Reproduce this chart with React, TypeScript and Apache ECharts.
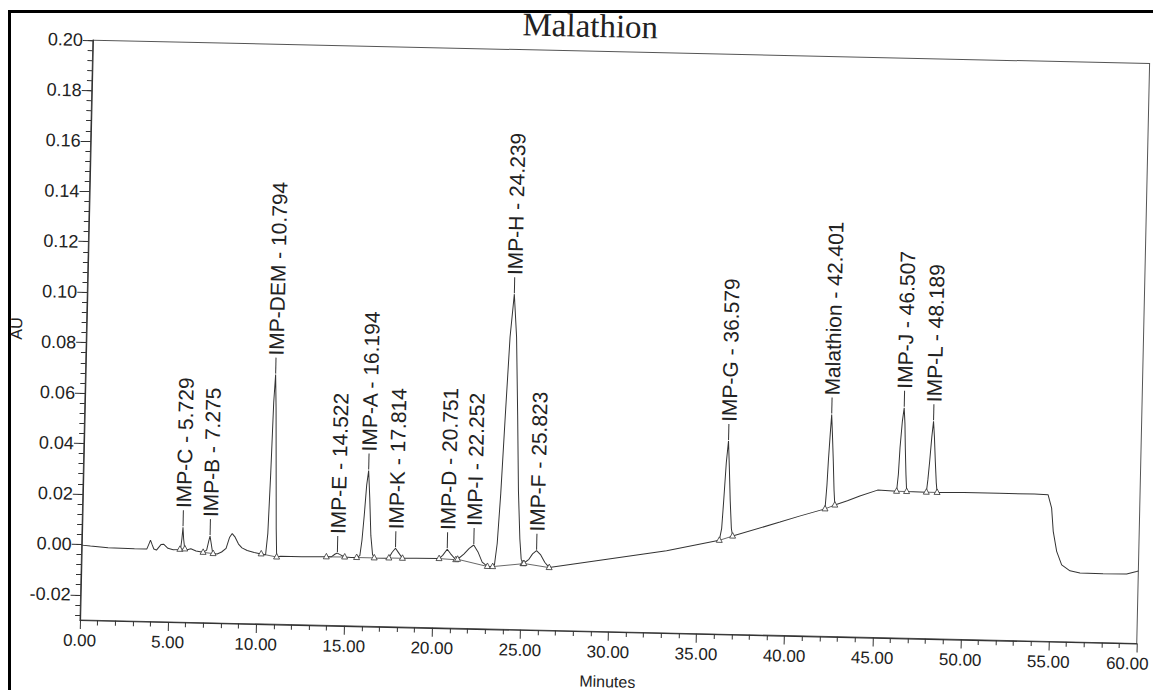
import React, { useEffect, useRef } from "react";
import * as echarts from "echarts";

// ---- Data (time in minutes, absorbance in AU) ----
const tracePoints: [number, number][] = [
  [0, -0.0003], [0.5, -0.0006], [1.5, -0.0011], [3.0, -0.0013], [3.7, -0.0013],
  [3.82, 0.0008], [3.9, 0.0023], [4.0, 0.0005], [4.1, -0.0012], [4.25, -0.0016],
  [4.5, 0.0006], [4.65, 0.0008], [4.9, -0.0008], [5.2, -0.0013], [5.5, -0.0012],
  [5.62, -0.0008], [5.68, 0.003], [5.729, 0.0077], [5.78, 0.003], [5.85, -0.0008],
  [6.0, -0.0012], [6.2, -0.0008], [6.5, -0.0016], [6.9, -0.0021],
  [7.1, -0.0012], [7.2, 0.0022], [7.275, 0.0044], [7.35, 0.0015], [7.45, -0.0025],
  [7.7, -0.0026], [7.95, -0.0018],
  [8.2, -0.0003], [8.38, 0.004], [8.53, 0.0056], [8.7, 0.0042], [8.9, 0.0015],
  [9.1, 0.0], [9.4, -0.001], [9.8, -0.0017], [10.2, -0.0022],
  [10.45, -0.0025], [10.55, 0.006], [10.64, 0.03], [10.72, 0.058], [10.794, 0.069],
  [10.86, 0.056], [10.94, 0.032], [11.02, 0.008], [11.08, -0.0033], [11.3, -0.003],
  [12.5, -0.003], [13.9, -0.0028], [14.2, -0.0027], [14.4, -0.0016], [14.522, -0.0012],
  [14.65, -0.0017], [14.94, -0.0027], [15.3, -0.0028], [15.62, -0.0028],
  [15.8, -0.002], [15.9, 0.004], [16.0, 0.014], [16.1, 0.026], [16.194, 0.0318],
  [16.29, 0.021], [16.4, 0.006], [16.52, -0.0015], [16.62, -0.0028],
  [17.3, -0.0028], [17.45, -0.0027], [17.62, -0.0005], [17.814, 0.0012], [18.0, -0.0006],
  [18.22, -0.0027], [19.0, -0.0026], [20.3, -0.0025], [20.5, -0.0012], [20.751, 0.0013],
  [20.95, -0.0005], [21.25, -0.0028], [21.35, -0.0026], [21.7, -0.0005], [22.0, 0.0018],
  [22.252, 0.0032], [22.5, 0.0005], [22.75, -0.0035], [23.05, -0.0052], [23.35, -0.0052],
  [23.45, -0.0045], [23.58, 0.004], [23.72, 0.024], [23.88, 0.055], [24.05, 0.086],
  [24.239, 0.103], [24.42, 0.086], [24.58, 0.055], [24.72, 0.025], [24.86, 0.006],
  [24.96, -0.002], [25.07, -0.0038],
  [25.4, -0.002], [25.6, 0.0002], [25.823, 0.0015], [26.05, 0.0], [26.3, -0.003],
  [26.56, -0.0051], [33.2, 0.0026], [36.18, 0.0072],
  [36.3, 0.012], [36.38, 0.0229], [36.48, 0.038], [36.579, 0.0467], [36.66, 0.036],
  [36.75, 0.023], [36.85, 0.012], [36.93, 0.009],
  [39.6, 0.015], [40.7, 0.0175], [42.14, 0.0206],
  [42.22, 0.03], [42.27, 0.0396], [42.34, 0.05], [42.401, 0.0581], [42.47, 0.05],
  [42.55, 0.0396], [42.63, 0.028], [42.69, 0.0222],
  [43.4, 0.024], [44.1, 0.026], [45.1, 0.0285], [46.18, 0.0282],
  [46.26, 0.035], [46.32, 0.0455], [46.42, 0.056], [46.507, 0.0614], [46.57, 0.055],
  [46.62, 0.0455], [46.69, 0.035], [46.75, 0.0282],
  [47.87, 0.0281],
  [47.94, 0.033], [48.02, 0.0404], [48.11, 0.05], [48.189, 0.0563], [48.26, 0.05],
  [48.34, 0.0404], [48.42, 0.032], [48.48, 0.0281],
  [50.0, 0.0283], [52.0, 0.0283], [54.0, 0.0283], [54.78, 0.0282], [55.0, 0.0229],
  [55.12, 0.0137], [55.34, 0.0058], [55.64, 0.0005], [56.12, -0.0018], [56.69, -0.0026],
  [58.0, -0.0027], [59.34, -0.0026], [59.9, -0.0015], [60.0, -0.0013],
];

const peakNames = [
  "IMP-C", "IMP-B", "IMP-DEM", "IMP-E", "IMP-A", "IMP-K", "IMP-D",
  "IMP-I", "IMP-H", "IMP-F", "IMP-G", "Malathion", "IMP-J", "IMP-L",
];
const peakTimes = [
  5.729, 7.275, 10.794, 14.522, 16.194, 17.814, 20.751,
  22.252, 24.239, 25.823, 36.579, 42.401, 46.507, 48.189,
];
const peakApex = [
  0.0077, 0.0044, 0.069, -0.0012, 0.0318, 0.0012, 0.0013,
  0.0032, 0.103, 0.0015, 0.0467, 0.0581, 0.0614, 0.0563,
];
const peakStartTimes = [5.58, 6.9, 10.2, 13.9, 15.62, 17.45, 20.3, 21.35, 23.35, 25.12, 36.18, 42.14, 46.18, 47.87];
const peakStartValues = [-0.0011, -0.0021, -0.0022, -0.0028, -0.0028, -0.0027, -0.0025, -0.0026, -0.0052, -0.0037, 0.0072, 0.0206, 0.0282, 0.0281];
const peakEndTimes = [5.86, 7.47, 11.08, 14.94, 16.62, 18.22, 21.25, 23.05, 25.07, 26.56, 36.93, 42.69, 46.75, 48.48];
const peakEndValues = [-0.0009, -0.0025, -0.0033, -0.0027, -0.0028, -0.0027, -0.0028, -0.0052, -0.0038, -0.0051, 0.009, 0.0222, 0.0282, 0.0281];

const yMajorTicks = [-0.02, 0, 0.02, 0.04, 0.06, 0.08, 0.1, 0.12, 0.14, 0.16, 0.18, 0.2];
const yMinorStep = 0.004;
const yMinorTicks: number[] = [];
for (let k = -7; k <= 50; k++) yMinorTicks.push(Number((k * yMinorStep).toFixed(3)));

const TITLE = "Malathion";
const SANS = '"Liberation Sans", Arial, Helvetica, sans-serif';
const SERIF = '"Liberation Serif", "Times New Roman", serif';
const INK = "#222";
const LINE = "#333";

// The printout sits slightly skewed on the scanned page: the chart is turned by
// this angle (clockwise) about the axis origin; the page frame is not.
const TILT_DEG = 1.27;
const PAD = 60; // extra canvas round the page so the turned chart is never cut
const ORIGIN_X = 80; // page position of the axis origin
const ORIGIN_Y = 620;

export default function App() {
  const ref = useRef<HTMLDivElement>(null);
  const frameRef = useRef<HTMLDivElement>(null);

  useEffect(() => {
    if (!ref.current || !frameRef.current) return;
    const chart = echarts.init(ref.current, undefined, { renderer: "svg" });
    const frame = echarts.init(frameRef.current, undefined, { renderer: "svg" });

    const option: any = {
      animation: false,
      backgroundColor: "#ffffff",
      grid: {
        left: ORIGIN_X + PAD,
        top: 40 + PAD,
        width: 1057,
        height: 580,
        show: true,
        borderColor: "#555",
        borderWidth: 1,
        backgroundColor: "transparent",
      },
      graphic: [
        {
          type: "text",
          x: 577 + PAD,
          y: 14.6 + PAD,
          style: {
            text: TITLE,
            fill: INK,
            fontSize: 33,
            fontFamily: SERIF,
            align: "center",
            verticalAlign: "middle",
          },
        },
      ],
      xAxis: {
        type: "value",
        min: 0,
        max: 60,
        interval: 5,
        position: "bottom",
        name: "Minutes",
        nameLocation: "middle",
        nameGap: 42,
        nameTextStyle: { fontSize: 16, color: INK, fontFamily: SANS },
        axisLine: { show: true, onZero: false, lineStyle: { color: LINE, width: 1.2 } },
        axisTick: { show: true, length: 9, lineStyle: { color: LINE } },
        minorTick: { show: true, splitNumber: 5, length: 5, lineStyle: { color: LINE } },
        axisLabel: {
          fontSize: 17,
          color: INK,
          fontFamily: SANS,
          margin: 12,
          formatter: (v: number) => (v >= 60 ? `{last|${v.toFixed(2)}}` : v.toFixed(2)),
          rich: {
            last: { fontSize: 17, color: INK, fontFamily: SANS, padding: [0, 18, 0, 0] },
          },
        },
        splitLine: { show: false },
        minorSplitLine: { show: false },
      },
      yAxis: [
        {
          type: "value",
          min: -0.03,
          max: 0.2,
          position: "left",
          name: "AU",
          nameLocation: "middle",
          nameGap: 55,
          nameRotate: 90,
          nameTextStyle: { fontSize: 16, color: INK, fontFamily: SANS },
          axisLine: { show: true, onZero: false, lineStyle: { color: LINE, width: 1.2 } },
          axisTick: { show: true, length: 10, customValues: yMajorTicks, lineStyle: { color: LINE } },
          axisLabel: {
            customValues: yMajorTicks,
            fontSize: 18,
            color: INK,
            fontFamily: SANS,
            margin: 10,
            formatter: (v: number) => v.toFixed(2),
          },
          splitLine: { show: false },
        },
        {
          type: "value",
          min: -0.03,
          max: 0.2,
          position: "left",
          axisLine: { show: false, onZero: false },
          axisTick: { show: true, length: 5, customValues: yMinorTicks, lineStyle: { color: LINE } },
          axisLabel: { show: false, customValues: yMinorTicks },
          splitLine: { show: false },
        },
      ],
      series: [
        {
          type: "line",
          name: "trace",
          data: tracePoints,
          showSymbol: false,
          symbol: "none",
          lineStyle: { color: LINE, width: 1 },
          z: 3,
        },
        {
          type: "custom",
          name: "integration",
          clip: false,
          z: 4,
          data: peakStartTimes.map((t, i) => [t, peakStartValues[i], peakEndTimes[i], peakEndValues[i]]),
          encode: { x: [0, 2], y: [1, 3] },
          renderItem: (params: any, api: any) => {
            const a = api.coord([api.value(0), api.value(1)]);
            const b = api.coord([api.value(2), api.value(3)]);
            const tri = (p: number[]) => ({
              type: "polygon",
              shape: { points: [[p[0], p[1] - 3.5], [p[0] - 3, p[1] + 2], [p[0] + 3, p[1] + 2]] },
              style: { fill: "#fff", stroke: LINE, lineWidth: 0.8 },
            });
            return {
              type: "group",
              children: [
                {
                  type: "line",
                  shape: { x1: a[0], y1: a[1], x2: b[0], y2: b[1] },
                  style: { stroke: "#444", lineWidth: 0.8 },
                },
                tri(a),
                tri(b),
              ],
            };
          },
        },
        {
          type: "custom",
          name: "labels",
          clip: false,
          z: 5,
          data: peakTimes.map((t, i) => [t, peakApex[i]]),
          encode: { x: 0, y: 1 },
          renderItem: (params: any, api: any) => {
            const p = api.coord([api.value(0), api.value(1)]);
            const i = params.dataIndex;
            const text = `${peakNames[i]} - ${peakTimes[i].toFixed(3)}`;
            return {
              type: "group",
              children: [
                {
                  type: "line",
                  shape: { x1: p[0], y1: p[1] - 1, x2: p[0], y2: p[1] - 17 },
                  style: { stroke: LINE, lineWidth: 1 },
                },
                {
                  type: "text",
                  x: p[0],
                  y: p[1] - 19,
                  rotation: Math.PI / 2,
                  style: {
                    text,
                    fill: INK,
                    fontSize: 21,
                    fontFamily: SANS,
                    align: "left",
                    verticalAlign: "middle",
                  },
                },
              ],
            };
          },
        },
      ],
    };

    chart.setOption(option);

    // upright page frame (scan edge) drawn on top
    frame.setOption({
      animation: false,
      graphic: [
        { type: "rect", shape: { x: 9, y: 10, width: 1144, height: 3 }, style: { fill: "#000" } },
        { type: "rect", shape: { x: 8, y: 10, width: 3, height: 680 }, style: { fill: "#000" } },
      ],
    });

    return () => {
      chart.dispose();
      frame.dispose();
    };
  }, []);

  return (
    <div
      style={{
        position: "fixed",
        left: 0,
        top: 0,
        width: 1153,
        height: 690,
        overflow: "hidden",
        background: "#fff",
      }}
    >
      <div
        ref={ref}
        style={{
          position: "absolute",
          left: -PAD,
          top: -PAD,
          width: 1153 + 2 * PAD,
          height: 690 + 2 * PAD,
          transform: `rotate(${TILT_DEG}deg)`,
          transformOrigin: `${ORIGIN_X + PAD}px ${ORIGIN_Y + PAD}px`,
        }}
      />
      <div
        ref={frameRef}
        style={{
          position: "absolute",
          left: 0,
          top: 0,
          width: 1153,
          height: 690,
          pointerEvents: "none",
        }}
      />
    </div>
  );
}
